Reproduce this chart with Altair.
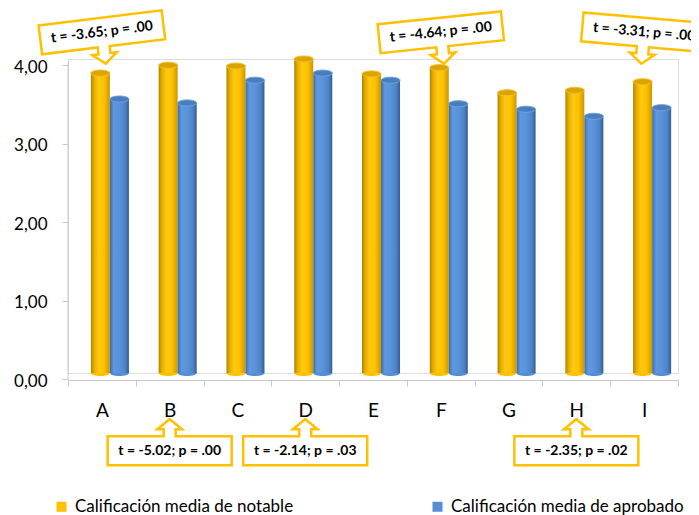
import altair as alt
import pandas as pd

categories = ["A", "B", "C", "D", "E", "F", "G", "H", "I"]
series_names = ["Calificación media de notable", "Calificación media de aprobado"]
notable = [3.82, 3.92, 3.91, 4.00, 3.81, 3.89, 3.57, 3.60, 3.71]
aprobado = [3.49, 3.44, 3.73, 3.82, 3.73, 3.43, 3.36, 3.27, 3.38]

callout_cat = ["A", "F", "I", "B", "D", "H"]
callout_t = ["-3.65", "-4.64", "-3.31", "-5.02", "-2.14", "-2.35"]
callout_p = [".00", ".00", ".00", ".00", ".03", ".02"]
callout_side = ["top", "top", "top", "bottom", "bottom", "bottom"]
callout_tilt = [353, 354, 5, 0, 0, 0]

rows = []
for c, a, b in zip(categories, notable, aprobado):
    rows.append({"cat": c, "series": series_names[0], "v": a})
    rows.append({"cat": c, "series": series_names[1], "v": b})
bars = pd.DataFrame(rows)

call = pd.DataFrame({
    "cat": callout_cat,
    "label": [f"t = {t}; p = {p}" for t, p in zip(callout_t, callout_p)],
    "side": callout_side,
    "tilt": callout_tilt,
})

YELLOW = "#FFC000"
BLUE = "#558ED5"

x_enc = alt.X(
    "cat:N",
    scale=alt.Scale(domain=categories, paddingInner=0, paddingOuter=0),
    axis=alt.Axis(
        title=None, labelAngle=0, labelFont="Lato", labelFontSize=19,
        labelColor="#000000", domainColor="#C8C8C8", tickColor="#C8C8C8",
        tickSize=6, tickBand="extent", labelPadding=15, offset=7,
    ),
)
y_axis = alt.Axis(
    title=None, values=[0, 1, 2, 3, 4], domain=False, grid=False,
    labelExpr="replace(format(datum.value, '.2f'), '.', ',')",
    labelFont="Lato", labelFontSize=17, labelColor="#000000",
    tickColor="#C8C8C8", tickSize=6, labelPadding=15,
    labelOffset=2, tickOffset=6,
)
y_scale = alt.Scale(domain=[0, 4], nice=False, zero=True)
xo_enc = alt.XOffset(
    "series:N",
    scale=alt.Scale(domain=series_names, paddingInner=0, paddingOuter=0.78, align=0.77),
)

def grad(stops):
    return alt.Gradient(
        gradient="linear", x1=0, x2=1, y1=0, y2=0,
        stops=[alt.GradientStop(color=c, offset=o) for o, c in stops],
    )

yellow_grad = grad([(0, "#B08400"), (0.18, "#E8AE00"), (0.42, "#FFCA10"),
                    (0.7, "#FFC000"), (1, "#C89800")])
blue_grad = grad([(0, "#3D6BA6"), (0.2, "#5E98DE"), (0.5, "#5A93D9"),
                  (0.8, "#4D84C8"), (1, "#345C93")])

ellipse = "M -1 0 A 1 0.32 0 1 0 1 0 A 1 0.32 0 1 0 -1 0 Z"
BAR_W = 19

# bottom ellipses (rounded cylinder base) + legend
bottoms = alt.Chart(bars).mark_point(
    shape=ellipse, filled=True, size=BAR_W * BAR_W, opacity=1, strokeWidth=0
).encode(
    x=x_enc, xOffset=xo_enc,
    y=alt.Y("zero:Q", scale=y_scale, axis=y_axis),
    color=alt.Color(
        "series:N",
        scale=alt.Scale(domain=series_names, range=[YELLOW, BLUE]),
        legend=alt.Legend(
            title=None, orient="none", legendX=-15, legendY=439,
            direction="horizontal", symbolType="square", symbolSize=100,
            symbolOpacity=1, symbolStrokeWidth=0, labelFont="Lato",
            labelFontSize=17, labelColor="#000000", columnPadding=135,
            labelOffset=5, padding=0, labelLimit=400,
        ),
    ),
).transform_calculate(zero="0")

def bar_layer(name, fill):
    return alt.Chart(bars).transform_filter(
        alt.datum.series == name
    ).mark_bar(fill=fill, width=BAR_W).encode(
        x=x_enc, xOffset=xo_enc,
        y=alt.Y("v:Q", scale=y_scale, axis=y_axis),
        y2=alt.datum(0),
    )

bars_y = bar_layer(series_names[0], yellow_grad)
bars_b = bar_layer(series_names[1], blue_grad)

def top_layer(name, fill, stroke):
    return alt.Chart(bars).transform_filter(
        alt.datum.series == name
    ).mark_point(
        shape=ellipse, filled=True, size=BAR_W * BAR_W, fill=fill,
        stroke=stroke, strokeWidth=1, opacity=1,
    ).encode(
        x=x_enc, xOffset=xo_enc,
        y=alt.Y("v:Q", scale=y_scale, axis=y_axis),
    )

tops_y = top_layer(series_names[0], "#DCA400", "#F5C226")
tops_b = top_layer(series_names[1], "#4A7DBE", "#6FA2DF")

# left wall line
wall = alt.Chart(pd.DataFrame({"a": [3.96], "b": [-0.08]})).mark_rule(
    color="#C8C8C8", strokeWidth=1
).encode(
    x=alt.value(0),
    y=alt.Y("a:Q", scale=y_scale, axis=y_axis),
    y2="b:Q",
)

# callouts
path_down = ("M -1 -0.234 L 1 -0.234 L 1 0.234 L 0.097 0.234 L 0.097 0.347 "
             "L 0.2 0.347 L 0 0.508 L -0.2 0.347 L -0.097 0.347 L -0.097 0.234 "
             "L -1 0.234 Z")
path_up = ("M -1 0.234 L 1 0.234 L 1 -0.234 L 0.097 -0.234 L 0.097 -0.347 "
           "L 0.2 -0.347 L 0 -0.508 L -0.2 -0.347 L -0.097 -0.347 L -0.097 -0.234 "
           "L -1 -0.234 Z")
BOX = 124

def callout_layer(side, path):
    base = alt.Chart(call).transform_filter(alt.datum.side == side).transform_calculate(
        cy="datum.side == 'top' ? 4.34 : -0.99"
    )
    box = base.mark_point(
        shape=path, filled=True, fill="white", stroke="#FFC000",
        strokeWidth=2.5, size=BOX * BOX, opacity=1,
    ).encode(
        x=x_enc,
        y=alt.Y("cy:Q", scale=y_scale, axis=y_axis),
        angle=alt.Angle("tilt:Q", scale=None),
    )
    txt = base.mark_text(
        font="Lato", fontSize=14, fontWeight="bold", color="#000000",
        align="center", baseline="middle",
    ).encode(
        x=x_enc,
        y=alt.Y("cy:Q", scale=y_scale, axis=y_axis),
        text="label:N",
        angle=alt.Angle("tilt:Q", scale=None),
    )
    return box + txt

chart = alt.layer(
    wall, bottoms, bars_y, bars_b, tops_y, tops_b,
    callout_layer("top", path_down), callout_layer("bottom", path_up),
).properties(
    width=610, height=314,
    autosize=alt.AutoSizeParams(type="none"),
    padding={"left": 60, "top": 51, "right": 13, "bottom": 142},
).configure_view(stroke=None).configure(background="white")

chart.save("out.html", embed_options={"renderer": "svg", "actions": False})
